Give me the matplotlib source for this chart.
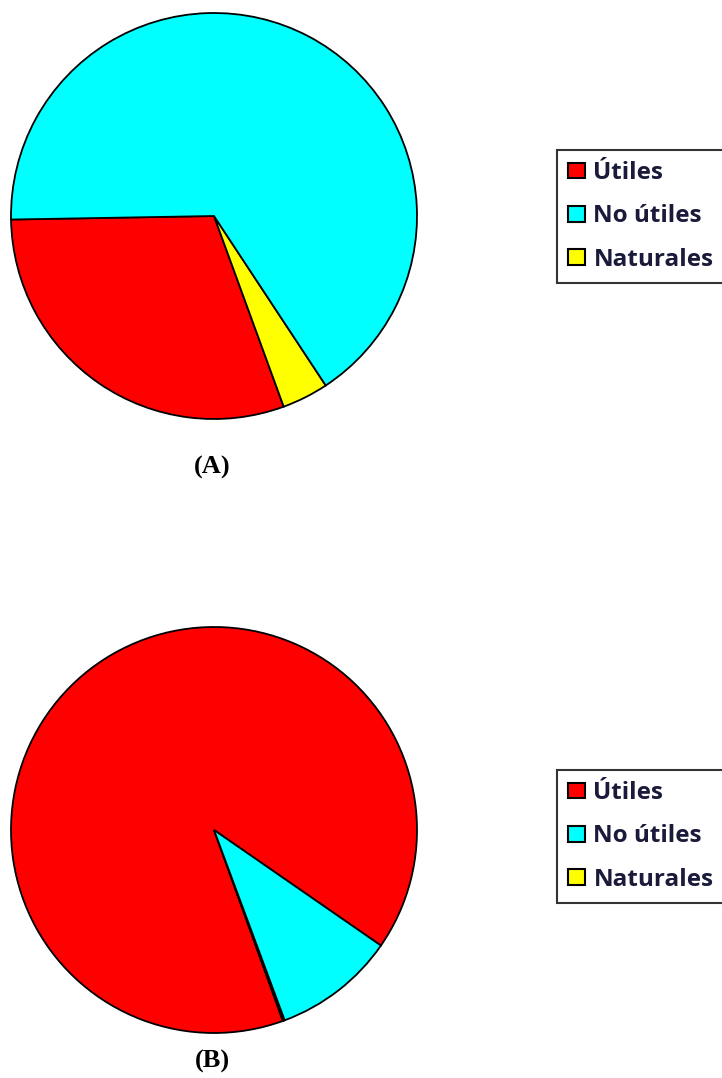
import matplotlib.pyplot as plt
from matplotlib.patches import Rectangle

categorias = ["Útiles", "No útiles", "Naturales"]
colores = ["#ff0000", "#00ffff", "#ffff00"]

# porcentajes de cada grupo
valores_a = [30.3, 66.0, 3.7]
valores_b = [90.15, 9.7, 0.15]
paneles = ["(A)", "(B)"]

W, H = 722, 1078
fig = plt.figure(figsize=(W / 100, H / 100), dpi=100)
ax = fig.add_axes([0, 0, 1, 1])

# orden de los sectores en sentido antihorario: Útiles, Naturales, No útiles
orden = [0, 2, 1]
centros = [(214, H - 216), (214, H - 830)]
inicios = [181, 325.3]
pos_titulo = [H - 467, H - 1061]
radio = 203

for valores, centro, inicio, nombre, yt in zip([valores_a, valores_b], centros, inicios, paneles, pos_titulo):
    ax.pie([valores[i] for i in orden], colors=[colores[i] for i in orden],
           startangle=inicio, counterclock=True, center=centro, radius=radio,
           wedgeprops=dict(edgecolor="black", linewidth=1.3), frame=True)
    ax.text(212, yt, nombre, ha="center", va="center",
            fontsize=19, fontweight="bold", family="Liberation Serif")

ax.set_xlim(0, W)
ax.set_ylim(0, H)
ax.set_aspect("equal")
ax.axis("off")

handles = [Rectangle((0, 0), 1, 1, facecolor=c, edgecolor="black", linewidth=1.5) for c in colores]
for top in [150, 770]:
    leg = fig.legend(handles, categorias, loc="upper left",
                     bbox_to_anchor=(557 / W, 1 - top / H),
                     prop=dict(family="Open Sans", weight="bold", size=17.5),
                     frameon=True, fancybox=False, edgecolor="black",
                     handlelength=0.7, handleheight=0.62, handletextpad=0.35,
                     labelspacing=0.8, borderpad=0.45, borderaxespad=0)
    leg.get_frame().set_linewidth(1.5)
    for t in leg.get_texts():
        t.set_color("#1a1a3a")

fig.savefig("out.png", dpi=100)
